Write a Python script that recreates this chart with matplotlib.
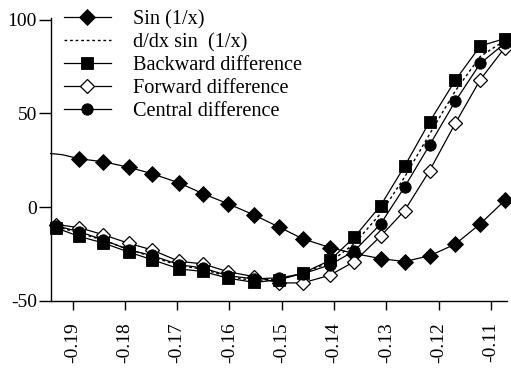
import matplotlib
matplotlib.use("Agg")
import matplotlib.pyplot as plt

plt.rcParams['font.family'] = ['Liberation Serif', 'DejaVu Serif']
plt.rcParams['axes.unicode_minus'] = False

# ---- data ----
x = [-0.1931, -0.1887, -0.1841, -0.1793, -0.1749, -0.1696, -0.1651, -0.1602,
     -0.1553, -0.1505, -0.1460, -0.1408, -0.1361, -0.1311, -0.1265, -0.1217,
     -0.1168, -0.1120, -0.1073]

sin_x = [-0.1942, -0.1920] + x[1:]
sin_y = [28.6, 28.0, 25.8, 24.2, 21.3, 17.9, 12.9, 7.2, 1.7, -4.2, -10.7, -16.9,
         -21.6, -24.8, -27.5, -29.1, -26.0, -19.8, -8.9, 3.6]

exact_y = [-10.5, -13.8, -17.8, -22.5, -26.5, -31.2, -33.2, -37.2, -39.2,
           -38.5, -35.3, -29.5, -19.5, -3.5, 16.0, 39.0, 62.0, 80.5, 89.0]

backward_y = [-11.2, -15.7, -19.2, -24.0, -28.0, -33.0, -34.4, -38.0, -40.2,
              -38.9, -35.3, -28.5, -16.0, 0.7, 21.8, 45.6, 67.7, 86.1, 90.0]

forward_y = [-9.3, -11.0, -14.8, -19.3, -22.8, -29.0, -30.3, -34.6, -37.1,
             -40.5, -40.5, -36.4, -29.1, -15.6, -1.9, 19.5, 44.7, 68.1, 85.2]

central_y = [-10.0, -13.2, -17.5, -22.8, -25.8, -30.8, -32.5, -36.7, -38.3,
             -37.8, -35.7, -30.9, -23.4, -9.1, 10.7, 33.2, 56.5, 76.8, 87.5]

labels = ["Sin (1/x)", "d/dx sin  (1/x)", "Backward difference",
          "Forward difference", "Central difference"]

xticks = [-0.19, -0.18, -0.17, -0.16, -0.15, -0.14, -0.13, -0.12, -0.11]
xtick_labels = ["-0.19", "-0.18", "-0.17", "-0.16", "-0.15", "-0.14",
                "-0.13", "-0.12", "-0.11"]
yticks = [-50, 0, 50, 100]
ytick_labels = ["-50", "0", "50", "100"]

# ---- figure ----
W, H = 511, 369
fig = plt.figure(figsize=(W / 100, H / 100), dpi=100)
left, right, bottom, top = 50.7, 507, 300.7, 18
ax = fig.add_axes([left / W, 1 - bottom / H, (right - left) / W, (bottom - top) / H])

lw = 0.9
h_sin, = ax.plot(sin_x, sin_y, color='black', lw=lw, marker='D', ms=7.8,
                 mfc='black', mec='black', mew=0.6,
                 markevery=list(range(2, len(sin_x))),
                 clip_on=False, zorder=3)
h_exact, = ax.plot(x, exact_y, color='black', lw=1.0, ls=(0, (2, 2)),
                   clip_on=False, zorder=2)
h_fwd, = ax.plot(x, forward_y, color='black', lw=lw, marker='D', ms=7.2,
                 mfc='white', mec='black', mew=0.9, clip_on=False, zorder=3)
h_bwd, = ax.plot(x, backward_y, color='black', lw=lw, marker='s', ms=8.2,
                 mfc='black', mec='black', mew=0.6, clip_on=False, zorder=4)
h_cen, = ax.plot(x, central_y, color='black', lw=lw, marker='o', ms=8.2,
                 mfc='black', mec='black', mew=0.6, clip_on=False, zorder=4)

ax.set_xlim(-0.1942, -0.1069)
ax.set_ylim(-50, 101)

ax.set_xticks(xticks)
ax.set_xticklabels(xtick_labels, rotation=90)
ax.set_yticks(yticks)
ax.set_yticklabels(ytick_labels)

for s in ['top', 'right']:
    ax.spines[s].set_visible(False)
for s in ['left', 'bottom']:
    ax.spines[s].set_linewidth(1.0)

ax.tick_params(axis='x', direction='out', length=6.5, width=1.0, pad=9,
               labelsize=14)
ax.tick_params(axis='y', direction='out', length=9, width=1.0, pad=1,
               labelsize=14)

leg = fig.legend([h_sin, h_exact, h_bwd, h_fwd, h_cen], labels,
                 loc='upper left', bbox_to_anchor=(64 / W, 1 - 10 / H),
                 bbox_transform=fig.transFigure, frameon=False,
                 borderpad=0, borderaxespad=0, handlelength=2.3,
                 handletextpad=1.1, labelspacing=0.18, numpoints=1,
                 fontsize=14.6)

fig.savefig("out.png", dpi=100)
